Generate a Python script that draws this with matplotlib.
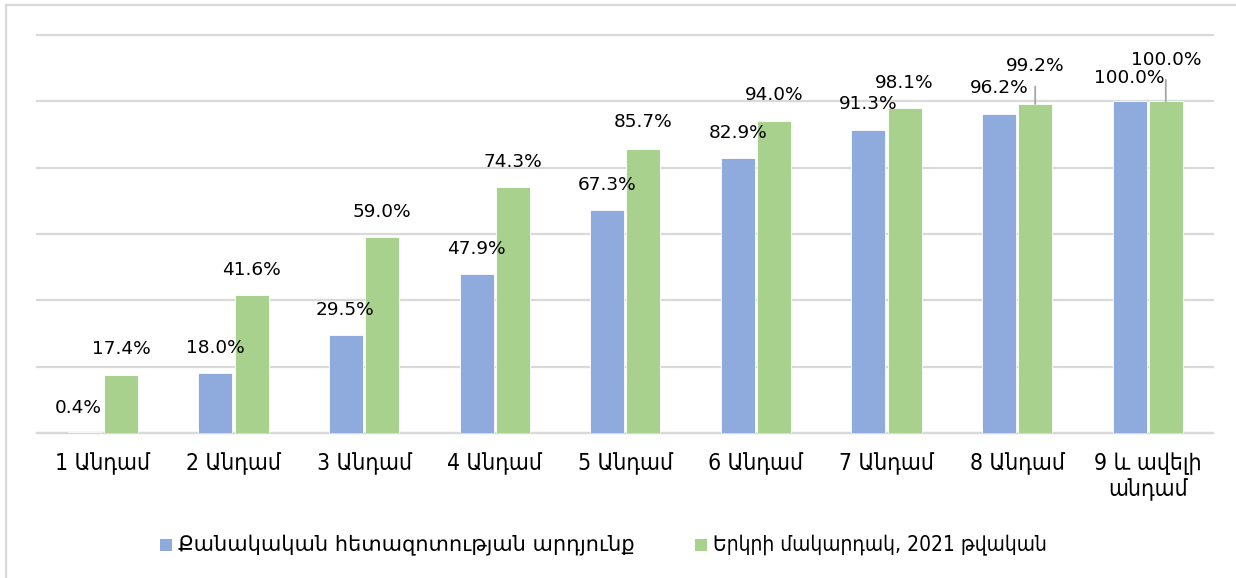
import matplotlib
matplotlib.use("Agg")
import matplotlib.pyplot as plt
from matplotlib.patches import Rectangle
from matplotlib.lines import Line2D
import numpy as np

categories = ["1 Անդամ", "2 Անդամ", "3 Անդամ", "4 Անդամ", "5 Անդամ",
              "6 Անդամ", "7 Անդամ", "8 Անդամ", "9 և ավելի\nանդամ"]
survey = [0.4, 18.0, 29.5, 47.9, 67.3, 82.9, 91.3, 96.2, 100.0]
national = [17.4, 41.6, 59.0, 74.3, 85.7, 94.0, 98.1, 99.2, 100.0]
series_names = ["Քանակական հետազոտության արդյունք", "Երկրի մակարդակ, 2021 թվական"]

BLUE = "#8FAADC"
GREEN = "#A9D18E"
GRID = "#D9D9D9"

W, H = 1236, 578
fig = plt.figure(figsize=(W / 100, H / 100), dpi=100)
ax = fig.add_axes([37 / W, 1 - 433 / H, (1213 - 37) / W, (433 - 35) / H])

x = np.arange(len(categories))
bw = 0.26
off = 0.1385
ax.bar(x - off, survey, bw, color=BLUE, edgecolor="white", linewidth=0.6, zorder=3)
ax.bar(x + off, national, bw, color=GREEN, edgecolor="white", linewidth=0.6, zorder=3)

ax.set_xlim(-0.505, 8.5)
ax.set_ylim(0, 120)
ax.set_yticks(np.arange(0, 121, 20))
ax.yaxis.grid(True, color=GRID, linewidth=1.6, zorder=0)
for gl in ax.get_ygridlines():
    gl.set_clip_on(False)
ax.tick_params(axis="y", left=False, labelleft=False)
for s in ["top", "right", "left"]:
    ax.spines[s].set_visible(False)
ax.spines["bottom"].set_color(GRID)
ax.spines["bottom"].set_linewidth(1.6)
ax.set_xticks(x)
ax.set_xticklabels(categories, fontsize=16.5, family=["DejaVu Sans"],
                   fontstretch="condensed", linespacing=1.15)
ax.tick_params(axis="x", length=0, pad=14, colors="black")

lab_font = dict(fontsize=13.3, family="DejaVu Sans", color="black")
# offsets in points (dx, dy) from bar top
blue_off = [(-5, 17), (0, 18), (-1, 18), (0, 18), (0, 18), (0, 18), (0, 19), (0, 19), (0, 17)]
green_off = [(0, 19), (0, 18), (0, 18), (0, 18), (0, 19), (0, 19), (0, 18), (0, 27), (0, 30)]
green_leader = [False] * 7 + [True, True]

for i, v in enumerate(survey):
    ax.annotate(f"{v:.1f}%", (x[i] - off, v), xytext=blue_off[i], textcoords="offset points",
                ha="center", va="center", zorder=5, **lab_font)
for i, v in enumerate(national):
    ap = None
    if green_leader[i]:
        ap = dict(arrowstyle="-", color="#A6A6A6", lw=1.3, shrinkA=6, shrinkB=0)
    ax.annotate(f"{v:.1f}%", (x[i] + off, v), xytext=green_off[i], textcoords="offset points",
                ha="center", va="center", zorder=5, arrowprops=ap, **lab_font)

# legend, drawn as squares + texts
ly = 1 - 545 / H
sq = 12
for (px, col, name, stretch) in [(160, BLUE, series_names[0], "normal"),
                                  (695, GREEN, series_names[1], "condensed")]:
    fig.patches.append(Rectangle((px / W, ly - sq / 2 / H), sq / W, sq / H,
                                 transform=fig.transFigure, facecolor=col, edgecolor="none"))
    fig.text((px + sq + 6) / W, ly, name, ha="left", va="center", fontsize=15,
             family="DejaVu Sans", fontstretch=stretch, color="black")

# outer chart frame (only left and top visible)
fig.add_artist(Line2D([6 / W, 6 / W], [0, 1 - 5 / H], transform=fig.transFigure,
                      color=GRID, linewidth=1.6))
fig.add_artist(Line2D([6 / W, 1], [1 - 5 / H, 1 - 5 / H], transform=fig.transFigure,
                      color=GRID, linewidth=1.6))

fig.savefig("out.png", dpi=100, facecolor="white")
